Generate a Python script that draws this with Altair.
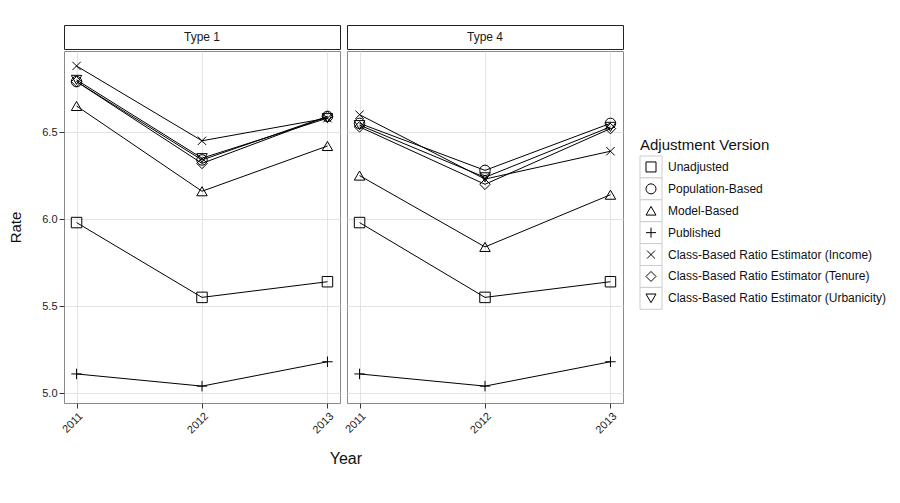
import altair as alt
import pandas as pd

# ---------------- data ----------------
years = [2011, 2012, 2013]
panels = ["Type 1", "Type 4"]
series = [
    "Unadjusted",
    "Population-Based",
    "Model-Based",
    "Published",
    "Class-Based Ratio Estimator (Income)",
    "Class-Based Ratio Estimator (Tenure)",
    "Class-Based Ratio Estimator (Urbanicity)",
]

type1_unadjusted = [5.98, 5.55, 5.64]
type1_population = [6.79, 6.34, 6.59]
type1_model = [6.65, 6.16, 6.42]
type1_published = [5.11, 5.04, 5.18]
type1_income = [6.88, 6.45, 6.58]
type1_tenure = [6.79, 6.32, 6.59]
type1_urbanicity = [6.80, 6.35, 6.58]

type4_unadjusted = [5.98, 5.55, 5.64]
type4_population = [6.55, 6.28, 6.55]
type4_model = [6.25, 5.84, 6.14]
type4_published = [5.11, 5.04, 5.18]
type4_income = [6.60, 6.23, 6.39]
type4_tenure = [6.53, 6.20, 6.52]
type4_urbanicity = [6.54, 6.24, 6.53]

type1_values = [type1_unadjusted, type1_population, type1_model, type1_published,
                type1_income, type1_tenure, type1_urbanicity]
type4_values = [type4_unadjusted, type4_population, type4_model, type4_published,
                type4_income, type4_tenure, type4_urbanicity]

y_ticks = [5.0, 5.5, 6.0, 6.5]
legend_title = "Adjustment Version"

# ---------------- styling ----------------
FONT = "Liberation Sans"
shape_range = [
    "square",
    "circle",
    "triangle-up",
    "M-1,0L1,0M0,-1L0,1",
    "M-0.8,-0.8L0.8,0.8M-0.8,0.8L0.8,-0.8",
    "diamond",
    "triangle-down",
]
shape_scale = alt.Scale(domain=series, range=shape_range)
PW = 276
PH = 352
STRIP_H = 24
xscale = alt.Scale(domain=[2010.9, 2013.1], nice=False, zero=False)
yscale = alt.Scale(domain=[4.943, 6.966], nice=False, zero=False)


def make_df(values):
    rows = []
    for s, vals in zip(series, values):
        for yr, v in zip(years, vals):
            rows.append({"series": s, "year": yr, "rate": v})
    return pd.DataFrame(rows)


def panel(name, values, first):
    df = make_df(values)
    xaxis = alt.Axis(values=years, format="d", title=None, labelAngle=-45,
                     labelAlign="right", labelBaseline="top", labelFontSize=11,
                     labelFont=FONT, labelColor="#222", tickColor="#333",
                     tickSize=5, labelPadding=2, domain=False, gridColor="#e3e3e3")
    if first:
        yaxis = alt.Axis(values=y_ticks, format=".1f", title="Rate", titleFontSize=15,
                         titleFont=FONT, titleFontWeight="normal", titleColor="#111",
                         titlePadding=18, labelFontSize=11, labelFont=FONT,
                         labelColor="#222", tickColor="#333", tickSize=5,
                         labelPadding=2, domain=False, gridColor="#e3e3e3")
    else:
        yaxis = alt.Axis(values=y_ticks, title=None, labels=False, ticks=False,
                         domain=False, gridColor="#e3e3e3")
    base = alt.Chart(df)
    lines = base.mark_line(color="black", strokeWidth=1).encode(
        x=alt.X("year:Q", scale=xscale, axis=xaxis),
        y=alt.Y("rate:Q", scale=yscale, axis=yaxis),
        detail="series:N",
        order="year:Q",
    )
    pts = base.mark_point(filled=False, color="black", size=110, strokeWidth=1,
                          opacity=1).encode(
        x=alt.X("year:Q", scale=xscale),
        y=alt.Y("rate:Q", scale=yscale),
        shape=alt.Shape("series:N", scale=shape_scale, legend=None),
    )
    plot = alt.layer(lines, pts).properties(
        width=PW, height=PH,
        view=alt.ViewBackground(stroke="#8a8a8a", strokeWidth=1, fill="white"),
    )
    strip = alt.Chart(pd.DataFrame({"panel": [name]})).mark_text(
        font=FONT, fontSize=12, color="#1a1a1a"
    ).encode(text="panel:N").properties(
        width=PW, height=STRIP_H,
        view=alt.ViewBackground(stroke="#222", strokeWidth=1, fill="white"),
    )
    return alt.vconcat(strip, plot, spacing=0)


p1 = panel(panels[0], type1_values, True)
p2 = panel(panels[1], type4_values, False)

panels_chart = alt.hconcat(p1, p2, spacing=1).properties(
    title=alt.TitleParams("Year", orient="bottom", anchor="middle", fontSize=16,
                          font=FONT, fontWeight="normal", color="#111", offset=15,
                          dx=30)
)

# ---------------- legend (drawn as a small chart) ----------------
leg_df = pd.DataFrame({"series": series, "idx": list(range(len(series)))})
leg_df["lo"] = leg_df["idx"] - 0.5
leg_df["hi"] = leg_df["idx"] + 0.5
leg_title_df = pd.DataFrame({"t": [legend_title], "idx": [-0.98]})
LH = STRIP_H + PH
lscale = alt.Scale(domain=[-6.482, -6.482 + LH / 21.9], reverse=True, nice=False, zero=False)

boxes = alt.Chart(leg_df).mark_rect(fill="white", stroke="#cccccc", strokeWidth=1).encode(
    y=alt.Y("lo:Q", scale=lscale, axis=None), y2="hi:Q",
    x=alt.value(0), x2=alt.value(22),
)
syms = alt.Chart(leg_df).mark_point(filled=False, color="black", size=100,
                                    strokeWidth=1, opacity=1).encode(
    y=alt.Y("idx:Q", scale=lscale, axis=None), x=alt.value(11),
    shape=alt.Shape("series:N", scale=shape_scale, legend=None),
)
labs = alt.Chart(leg_df).mark_text(align="left", baseline="middle", font=FONT,
                                   fontSize=12, color="#111").encode(
    y=alt.Y("idx:Q", scale=lscale, axis=None), x=alt.value(28), text="series:N",
)
ltitle = alt.Chart(leg_title_df).mark_text(align="left", baseline="middle", font=FONT,
                                           fontSize=15, color="#111").encode(
    y=alt.Y("idx:Q", scale=lscale, axis=None), x=alt.value(0), text="t:N",
)
legend = alt.layer(boxes, syms, labs, ltitle).properties(
    width=22, height=LH,
    view=alt.ViewBackground(stroke="transparent", fill="transparent"),
)

chart = alt.hconcat(panels_chart, legend, spacing=15).properties(
    padding={"left": 0, "top": 16, "right": 2, "bottom": 5},
    background="white",
)

chart.save("out.html", embed_options={"renderer": "svg", "actions": False})
